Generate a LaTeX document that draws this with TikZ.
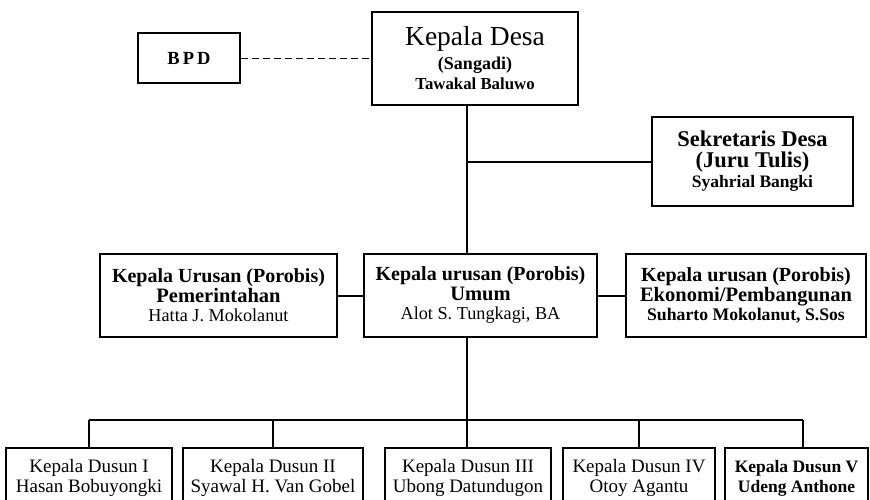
\documentclass[tikz,border=0pt]{standalone}
\usepackage{fontspec}
\setmainfont{Liberation Serif}
\newcommand\fsz[2]{\fontsize{#1}{#2}\selectfont}
\begin{document}
\begin{tikzpicture}[x=1pt,y=-1pt,
  box/.style={draw, line width=2pt, rectangle, inner sep=0pt, align=center},
  conn/.style={line width=2pt},
  midbox/.style={box, minimum width=#1, minimum height=83pt, font=\fsz{20}{19.5}},
  dbox/.style={box, minimum width=#1, minimum height=60pt, font=\fsz{19}{20}},
]
\useasboundingbox (0,0) rectangle (870,500);
\clip (0,0) rectangle (870,500);
\fill[white] (0,0) rectangle (870,500);

% top
\node[box, minimum width=206pt, minimum height=93pt, font=\fsz{18}{20}] (kd) at (475,58.5)
  {{\fsz{27.5}{26}Kepala Desa}\\[4pt]{\bfseries (Sangadi)}\\{\bfseries\fsz{16.8}{20}Tawakal Baluwo}};
\node[box, minimum width=102pt, minimum height=50pt, font=\bfseries\fsz{18.5}{20}] (bpd) at (189,58.5) {B\,P\,D};
\node[box, minimum width=201pt, minimum height=89pt, font=\bfseries\fsz{22.5}{20.5}] (sek) at (752.5,161.5)
  {Sekretaris Desa\\(Juru Tulis)\\{\fsz{17.5}{17}Syahrial Bangki}};

% middle
\node[midbox=237pt] (pem) at (218.5,295.5)
  {{\bfseries Kepala Urusan (Porobis)}\\{\bfseries\fsz{20.5}{19}Pemerintahan}\\{\fsz{18.2}{19}Hatta J. Mokolanut}};
\node[midbox=233pt] (umum) at (480.5,295.5)
  {{\bfseries Kepala urusan (Porobis)}\\{\bfseries\fsz{20.5}{19}Umum}\\{\fsz{18.2}{19}Alot S. Tungkagi, BA}};
\node[midbox=240pt] (eko) at (746,295.5)
  {{\bfseries Kepala urusan (Porobis)}\\{\bfseries\fsz{20.5}{19}Ekonomi/Pembangunan}\\{\bfseries\fsz{17.7}{19}Suharto Mokolanut, S.Sos}};

% bottom
\node[dbox=166pt] (d1) at (89,478) {Kepala Dusun I\\Hasan Bobuyongki};
\node[dbox=180pt] (d2) at (273,478) {Kepala Dusun II\\Syawal H. Van Gobel};
\node[dbox=166pt] (d3) at (468,478) {Kepala Dusun III\\Ubong Datundugon};
\node[dbox=152pt] (d4) at (639,478) {Kepala Dusun IV\\Otoy Agantu};
\node[dbox=143pt, font=\bfseries\fsz{17.5}{20}] (d5) at (796.5,478) {Kepala Dusun V\\Udeng Anthone};

% connectors
\coordinate (tx) at (467,0);
\coordinate (bus) at (467,420);
\coordinate (d5top) at ([xshift=6pt]d5.north);

\draw[conn, line width=1.8pt, dash pattern=on 7pt off 4pt] (bpd.east) -- (bpd.east -| kd.west);
\draw[conn] (kd.south -| tx) -- (umum.north -| tx);
\draw[conn] (tx |- sek.west) -- (sek.west);
\draw[conn] (pem.east) -- (umum.west);
\draw[conn] (umum.east) -- (eko.west);
\draw[conn] (umum.south -| tx) -- (bus);
\draw[conn] (d1.north |- bus) -- (d5top |- bus);
\draw[conn] (d1.north |- bus) -- (d1.north);
\draw[conn] (d2.north |- bus) -- (d2.north);
\draw[conn] (bus) -- (d3.north -| bus);
\draw[conn] (d4.north |- bus) -- (d4.north);
\draw[conn] (d5top |- bus) -- (d5top);
\end{tikzpicture}
\end{document}
